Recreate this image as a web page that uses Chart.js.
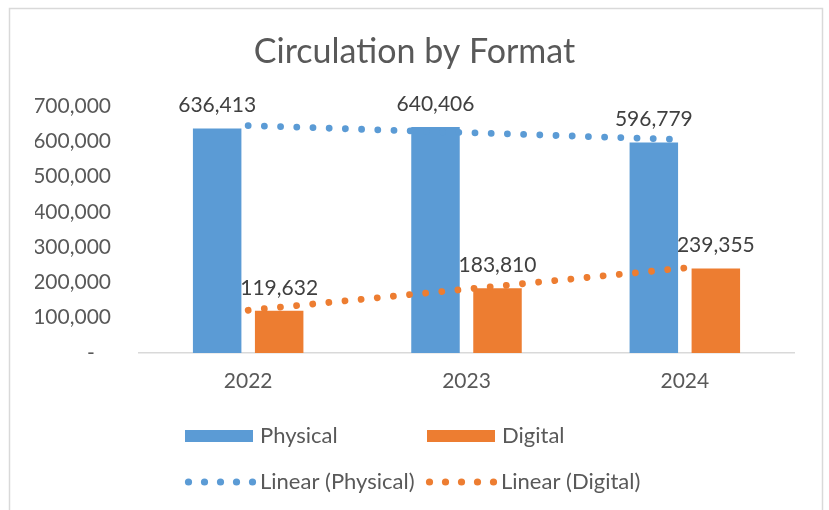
<!DOCTYPE html>
<html>
<head>
<meta charset="utf-8">
<script src="https://cdn.jsdelivr.net/npm/chart.js@4.4.1/dist/chart.umd.min.js"></script>
<style>
  html, body { margin: 0; padding: 0; background: #ffffff; }
  #wrap { width: 829px; height: 510px; position: relative; }
</style>
</head>
<body>
<div id="wrap"><canvas id="c" width="829" height="510"></canvas></div>
<script>
const categories = ['2022', '2023', '2024'];
const physical = [636413, 640406, 596779];
const digital = [119632, 183810, 239355];
// Linear trendline values (start, middle, end)
const trendPhysical = [644350, 624533, 604716];
const trendDigital = [121071, 180932, 240794];
const seriesNames = ['Physical', 'Digital', 'Linear (Physical)', 'Linear (Digital)'];

const BLUE = '#5B9BD5';
const ORANGE = '#ED7D31';
const FONT = 'Lato, "Open Sans", sans-serif';
const TEXT = '#595959';

const fmt = v => Number(v).toLocaleString('en-US');

const framePlugin = {
  id: 'frame',
  beforeDraw(chart) {
    const ctx = chart.ctx;
    ctx.save();
    ctx.fillStyle = '#ffffff';
    ctx.fillRect(0, 0, chart.width, chart.height);
    ctx.strokeStyle = '#d9d9d9';
    ctx.lineWidth = 1.5;
    ctx.strokeRect(9.5, 8.5, 813, 600);
    ctx.restore();
  }
};

const labelPlugin = {
  id: 'valueLabels',
  afterDatasetsDraw(chart) {
    const ctx = chart.ctx;
    ctx.save();
    ctx.font = '21px ' + FONT;
    ctx.fillStyle = '#404040';
    ctx.textAlign = 'center';
    ctx.textBaseline = 'middle';
    chart.data.datasets.forEach((ds, i) => {
      if (ds.type === 'line') return;
      const meta = chart.getDatasetMeta(i);
      meta.data.forEach((el, j) => {
        ctx.fillText(fmt(ds.data[j]), el.x, el.y - 23);
      });
    });
    ctx.restore();
  }
};

const legendPlugin = {
  id: 'customLegend',
  afterDraw(chart) {
    const ctx = chart.ctx;
    ctx.save();
    ctx.font = '22px ' + FONT;
    ctx.textBaseline = 'middle';
    ctx.textAlign = 'left';
    const items = [
      { name: seriesNames[0], color: BLUE, kind: 'box', x: 185, y: 436 },
      { name: seriesNames[1], color: ORANGE, kind: 'box', x: 427, y: 436 },
      { name: seriesNames[2], color: BLUE, kind: 'dots', x: 185, y: 482 },
      { name: seriesNames[3], color: ORANGE, kind: 'dots', x: 426, y: 482 }
    ];
    items.forEach(it => {
      ctx.fillStyle = it.color;
      if (it.kind === 'box') {
        ctx.fillRect(it.x, it.y - 6, 68, 12);
      } else {
        for (let k = 0; k < 5; k++) {
          ctx.beginPath();
          ctx.arc(it.x + 3.5 + k * 16, it.y, 3.6, 0, Math.PI * 2);
          ctx.fill();
        }
      }
      ctx.fillStyle = TEXT;
      ctx.fillText(it.name, it.x + 75, it.y);
    });
    ctx.restore();
  }
};

new Chart(document.getElementById('c'), {
  data: {
    labels: categories,
    datasets: [
      {
        type: 'line', label: seriesNames[2], data: trendPhysical,
        borderColor: BLUE, borderWidth: 6.8, borderDash: [0.01, 16.2],
        borderCapStyle: 'round', pointRadius: 0, fill: false, tension: 0, order: 0
      },
      {
        type: 'line', label: seriesNames[3], data: trendDigital,
        borderColor: ORANGE, borderWidth: 6.8, borderDash: [0.01, 16.2],
        borderCapStyle: 'round', pointRadius: 0, fill: false, tension: 0, order: 0
      },
      {
        type: 'bar', label: seriesNames[0], data: physical,
        backgroundColor: BLUE, categoryPercentage: 0.568, barPercentage: 0.782, order: 1
      },
      {
        type: 'bar', label: seriesNames[1], data: digital,
        backgroundColor: ORANGE, categoryPercentage: 0.568, barPercentage: 0.782, order: 1
      }
    ]
  },
  options: {
    responsive: false,
    animation: false,
    layout: { padding: { left: 35, right: 35, top: 0, bottom: 0 } },
    plugins: {
      legend: { display: false },
      tooltip: { enabled: false },
      title: {
        display: true,
        text: 'Circulation by Format',
        color: TEXT,
        font: { family: FONT, size: 34, weight: 'normal', lineHeight: 1.2 },
        padding: { top: 32, bottom: 33.2 }
      }
    },
    scales: {
      x: {
        grid: { display: false, drawTicks: false },
        border: { display: true, color: '#d9d9d9', width: 1.5 },
        ticks: { color: TEXT, font: { family: FONT, size: 21 }, padding: 16 },
        afterFit(scale) { scale.height = 157; }
      },
      y: {
        min: 0, max: 700000,
        grid: { display: false, drawTicks: false },
        border: { display: false },
        ticks: {
          stepSize: 100000,
          color: TEXT,
          font: { family: FONT, size: 21 },
          padding: 28,
          callback: v => v === 0 ? '-   ' : fmt(v)
        },
        afterFit(scale) { scale.width = 104; }
      }
    }
  },
  plugins: [framePlugin, labelPlugin, legendPlugin]
});
</script>
</body>
</html>
